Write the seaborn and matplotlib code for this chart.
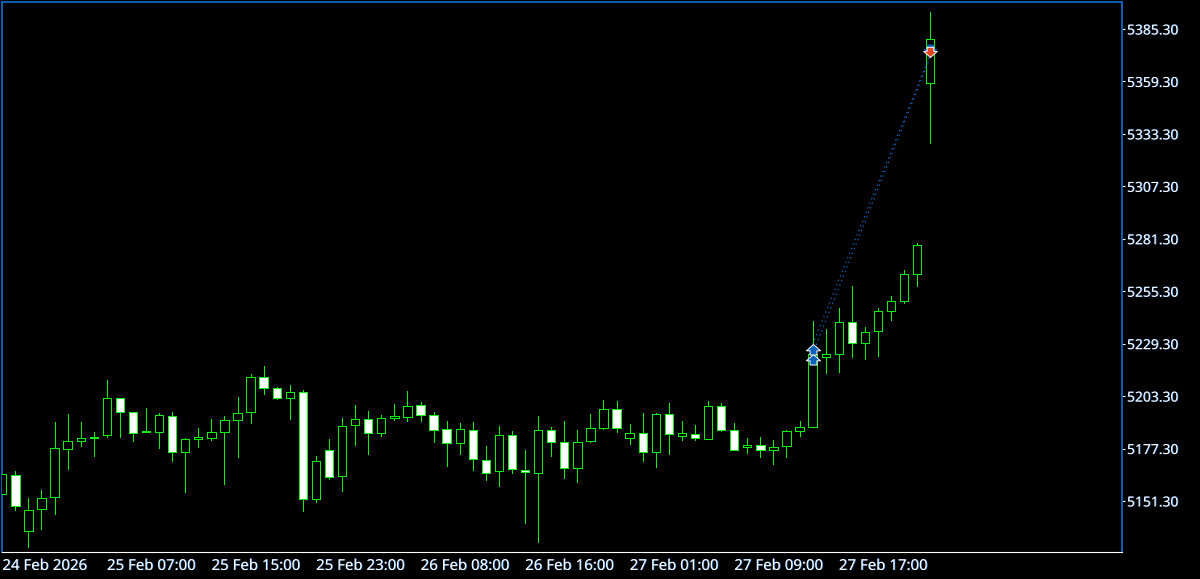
import matplotlib
matplotlib.use('Agg')
import matplotlib.pyplot as plt
import matplotlib.patheffects as pe
from matplotlib.path import Path
import pandas as pd
import seaborn as sns

# OHLC, one bar per hour of trading
opens = [5154.6, 5164.3, 5136.2, 5147.2, 5153.1, 5176.9, 5180.9, 5182.7, 5183.8, 5202.2,
         5195.2, 5185.5, 5185.3, 5193.6, 5175.4, 5181.9, 5182.7, 5185.3, 5191.6, 5195.2,
         5212.6, 5207.2, 5202.2, 5205.2, 5152.1, 5176.4, 5163.7, 5188.8, 5191.8, 5184.8,
         5192.3, 5193.1, 5198.7, 5193.8, 5186.8, 5179.9, 5186.7, 5171.4, 5166.0, 5184.2,
         5166.5, 5165.0, 5186.3, 5180.5, 5167.5, 5180.9, 5187.3, 5196.7, 5182.4, 5184.8,
         5175.7, 5194.3, 5183.7, 5184.7, 5182.2, 5198.2, 5186.3, 5177.9, 5178.9, 5176.4,
         5178.4, 5186.2, 5188.1, 5222.7, 5224.3, 5239.9, 5229.5, 5235.4, 5245.4, 5250.3,
         5263.7, 5358.4]
highs = [5164.5, 5166.2, 5152.8, 5156.7, 5190.5, 5194.4, 5190.5, 5185.5, 5211.3, 5202.2,
         5195.2, 5197.4, 5194.8, 5195.2, 5182.4, 5187.3, 5191.8, 5193.4, 5202.9, 5214.3,
         5218.2, 5207.6, 5208.8, 5206.3, 5173.4, 5181.9, 5192.3, 5198.9, 5195.9, 5193.8,
         5199.2, 5205.8, 5200.4, 5195.4, 5191.0, 5190.0, 5190.5, 5178.6, 5188.5, 5186.0,
         5176.6, 5193.4, 5188.0, 5191.0, 5186.5, 5194.4, 5201.4, 5200.9, 5189.5, 5194.9,
         5194.9, 5199.9, 5191.0, 5189.0, 5200.9, 5199.9, 5190.0, 5182.5, 5183.0, 5181.5,
         5186.5, 5191.0, 5240.5, 5236.6, 5247.0, 5257.9, 5237.6, 5247.0, 5253.1, 5265.9,
         5279.0, 5393.7]
lows = [5154.6, 5147.0, 5128.6, 5137.6, 5145.0, 5167.3, 5178.7, 5173.8, 5183.2, 5183.2,
        5181.2, 5185.5, 5177.7, 5171.3, 5155.9, 5178.1, 5181.7, 5159.9, 5173.3, 5190.1,
        5204.5, 5201.7, 5192.1, 5146.5, 5151.0, 5162.0, 5156.4, 5179.2, 5174.8, 5183.7,
        5191.3, 5191.0, 5191.0, 5180.7, 5168.8, 5174.8, 5166.8, 5161.9, 5158.9, 5165.3,
        5140.5, 5131.1, 5173.8, 5162.9, 5160.9, 5180.7, 5187.2, 5185.7, 5179.7, 5171.3,
        5168.0, 5174.8, 5181.7, 5181.7, 5182.2, 5185.8, 5176.4, 5175.2, 5173.3, 5169.8,
        5173.3, 5183.7, 5187.8, 5214.9, 5215.4, 5222.9, 5221.9, 5223.4, 5241.2, 5249.7,
        5258.0, 5329.0]
closes = [5164.5, 5148.6, 5147.0, 5152.6, 5177.4, 5180.9, 5182.7, 5183.0, 5202.2, 5195.2,
          5185.2, 5185.8, 5193.8, 5175.4, 5181.9, 5182.9, 5185.3, 5191.6, 5194.8, 5212.6,
          5207.5, 5202.2, 5205.2, 5152.3, 5171.3, 5163.0, 5188.6, 5191.8, 5184.8, 5192.3,
          5193.3, 5198.2, 5193.8, 5186.3, 5179.9, 5186.8, 5171.9, 5165.0, 5184.2, 5167.0,
          5165.5, 5186.3, 5180.4, 5167.5, 5180.4, 5187.3, 5196.7, 5187.3, 5184.8, 5175.4,
          5194.3, 5184.3, 5184.8, 5182.4, 5198.2, 5186.3, 5176.4, 5178.9, 5176.4, 5178.2,
          5185.8, 5187.8, 5224.2, 5224.2, 5239.9, 5229.5, 5235.0, 5245.4, 5250.3, 5263.7,
          5278.0, 5380.2]

# the two trades: entry and exit bar, entry and exit price
trade_bars = [62, 71]
trade_one = [5229.0, 5372.5]
trade_two = [5224.2, 5371.5]

date_ticks = [0, 8, 16, 24, 32, 40, 48, 56, 64]
date_labels = ['24 Feb 2026', '25 Feb 07:00', '25 Feb 15:00', '25 Feb 23:00', '26 Feb 08:00',
               '26 Feb 16:00', '27 Feb 01:00', '27 Feb 09:00', '27 Feb 17:00']
price_ticks = [5151.3, 5177.3, 5203.3, 5229.3, 5255.3, 5281.3, 5307.3, 5333.3, 5359.3, 5385.3]

df = pd.DataFrame({'open': opens, 'high': highs, 'low': lows, 'close': closes})
df['bar'] = df.index
df['top'] = df[['open', 'close']].max(axis=1)
df['bottom'] = df[['open', 'close']].min(axis=1)

sns.set_theme(style='dark', rc={'axes.facecolor': 'black', 'figure.facecolor': 'black',
                                'axes.grid': False})
plt.rcParams['font.family'] = ['Noto Sans', 'DejaVu Sans']

GREEN = '#10f010'
BLUE = '#0b60b8'

fig = plt.figure(figsize=(12, 5.79), dpi=100)
ax = fig.add_axes([2 / 1200, 1 - 552 / 579, 1120 / 1200, 550 / 579])

# wicks first, the bodies sit on top of them
ax.vlines(df['bar'], df['low'], df['high'], color=GREEN, linewidth=0.6, antialiased=False, zorder=2)
fills = ['white' if c < o else 'black' for o, c in zip(df['open'], df['close'])]
ax.bar(df['bar'], df['top'] - df['bottom'], bottom=df['bottom'], width=0.64, color=fills,
       edgecolor=GREEN, linewidth=0.6, antialiased=False, zorder=3)

# dotted trade lines
for prices in [trade_one, trade_two]:
    sns.lineplot(x=trade_bars, y=prices, ax=ax, color='#1470d0', linewidth=0.8,
                 linestyle=(0, (1.2, 3.2)), errorbar=None, zorder=4)

up_arrow = Path([(0, 0), (0.67, -0.6), (0.33, -0.6), (0.33, -1), (-0.33, -1), (-0.33, -0.6),
                 (-0.67, -0.6), (0, 0)], closed=True)
down_arrow = Path([(0, 0), (0.67, 0.6), (0.33, 0.6), (0.33, 1), (-0.33, 1), (-0.33, 0.6),
                   (-0.67, 0.6), (0, 0)], closed=True)
sns.scatterplot(x=[trade_bars[0]], y=[trade_two[0]], ax=ax, marker=up_arrow, s=230, color=BLUE,
                edgecolor='white', linewidth=0.7, zorder=5)
sns.scatterplot(x=[trade_bars[0]], y=[trade_one[0]], ax=ax, marker=up_arrow, s=230, color=BLUE,
                edgecolor='white', linewidth=0.7, zorder=6)
sns.scatterplot(x=[trade_bars[1]], y=[trade_one[1]], ax=ax, marker=down_arrow, s=250, color=BLUE,
                edgecolor='white', linewidth=0, zorder=5)
sns.scatterplot(x=[trade_bars[1]], y=[trade_two[1]], ax=ax, marker=down_arrow, s=215, color='#e2451f',
                edgecolor='white', linewidth=0.7, zorder=6)

ax.set_xlim(-0.02, 85.67)
ax.set_ylim(5126.0, 5398.7)
ax.set_xlabel('')
ax.set_ylabel('')

ax.yaxis.tick_right()
ax.set_yticks(price_ticks)
ax.set_yticklabels(['%.2f' % p for p in price_ticks])
ax.set_xticks(date_ticks)
ax.set_xticklabels(date_labels, ha='left')
ax.tick_params(axis='x', colors='white', length=2, width=0.8, pad=3, labelsize=10.8)
ax.tick_params(axis='y', colors='white', length=2.5, width=0.8, pad=1, labelsize=10, right=True)

# cleartype-like blue fringe on the labels
fringe = [pe.SimplePatchShadow(offset=(0.5, 0), shadow_rgbFace='#3f8fe8', alpha=1), pe.Normal()]
for label in ax.get_xticklabels() + ax.get_yticklabels():
    label.set_path_effects(fringe)

for side in ['left', 'top', 'right']:
    ax.spines[side].set_visible(True)
    ax.spines[side].set_color(BLUE)
    ax.spines[side].set_linewidth(1.4)
ax.spines['bottom'].set_visible(True)
ax.spines['bottom'].set_color('white')
ax.spines['bottom'].set_linewidth(0.8)

fig.savefig('out.png', dpi=100, facecolor='black')
